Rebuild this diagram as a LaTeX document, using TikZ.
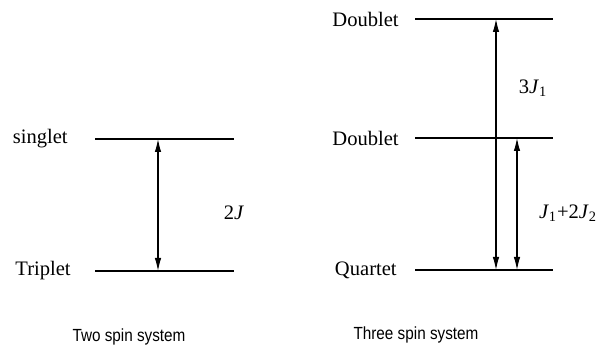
\documentclass[tikz,border=0pt]{standalone}
\usepackage{fontspec}
\setmainfont{Liberation Serif}
\newfontfamily\capfont{Liberation Sans}
\usepackage{tikz}
\usetikzlibrary{arrows.meta,positioning}

\tikzset{
  level/.style={line width=0.9pt},
  gap/.style={{Latex[length=2.6mm,width=1.3mm]}-{Latex[length=2.6mm,width=1.3mm]}, line width=0.6pt},
  state/.style={font=\fontsize{11.7}{14}\selectfont, inner sep=0pt},
  split/.style={font=\fontsize{11.7}{14}\selectfont, inner sep=0pt},
  caption/.style={font=\capfont\fontsize{10}{12}\selectfont, inner sep=0pt, anchor=base, xscale=0.87, transform shape},
}

\begin{document}
\begin{tikzpicture}
    \useasboundingbox (0,0) rectangle (12,6.9);

    % Two spin system: levels
    \coordinate (singL) at (1.9,4.12);  \coordinate (singR) at (4.68,4.12);
    \coordinate (tripL) at (1.9,1.48);  \coordinate (tripR) at (4.68,1.48);
    \draw[level] (singL) -- (singR);
    \draw[level] (tripL) -- (tripR);
    \node[state, left=0.54cm of singL] (singlet) {singlet};
    \node[state, left=0.48cm of tripL] (triplet) {Triplet};

    % Two spin system: splitting
    \coordinate (s2J) at (3.16,4.12);
    \coordinate (t2J) at (3.16,1.48);
    \draw[gap] (s2J) -- (t2J);
    \node[split] (lab2J) at (4.68,2.64) {2\textit{J}};

    % Three spin system: levels
    \coordinate (dbtopL) at (8.3,6.52);  \coordinate (dbtopR) at (11.06,6.52);
    \coordinate (dbmidL) at (8.3,4.14);  \coordinate (dbmidR) at (11.06,4.14);
    \coordinate (quarL) at (8.3,1.5);    \coordinate (quarR) at (11.06,1.5);
    \draw[level] (dbtopL) -- (dbtopR);
    \draw[level] (dbmidL) -- (dbmidR);
    \draw[level] (quarL) -- (quarR);
    \node[state, left=0.32cm of dbtopL] (doublet1) {Doublet};
    \node[state, left=0.32cm of dbmidL] (doublet2) {Doublet};
    \node[state, left=0.36cm of quarL] (quartet) {Quartet};

    % Three spin system: splittings
    \coordinate (d3J) at (9.92,6.52);
    \coordinate (q3J) at (9.92,1.5);
    \coordinate (dJJ) at (10.34,4.14);
    \coordinate (qJJ) at (10.34,1.5);
    \draw[gap] (d3J) -- (q3J);
    \draw[gap] (dJJ) -- (qJJ);
    \node[split] (lab3J) at (10.66,5.14) {3\textit{J}\textsubscript{1}};
    \node[split] (labJJ) at (11.36,2.64) {\textit{J}\textsubscript{1}+2\textit{J}\textsubscript{2}};

    % Captions
    \node[caption] (cap2) at (2.58,0.07) {Two spin system};
    \node[caption] (cap3) at (8.32,0.11) {Three spin system};
\end{tikzpicture}
\end{document}
